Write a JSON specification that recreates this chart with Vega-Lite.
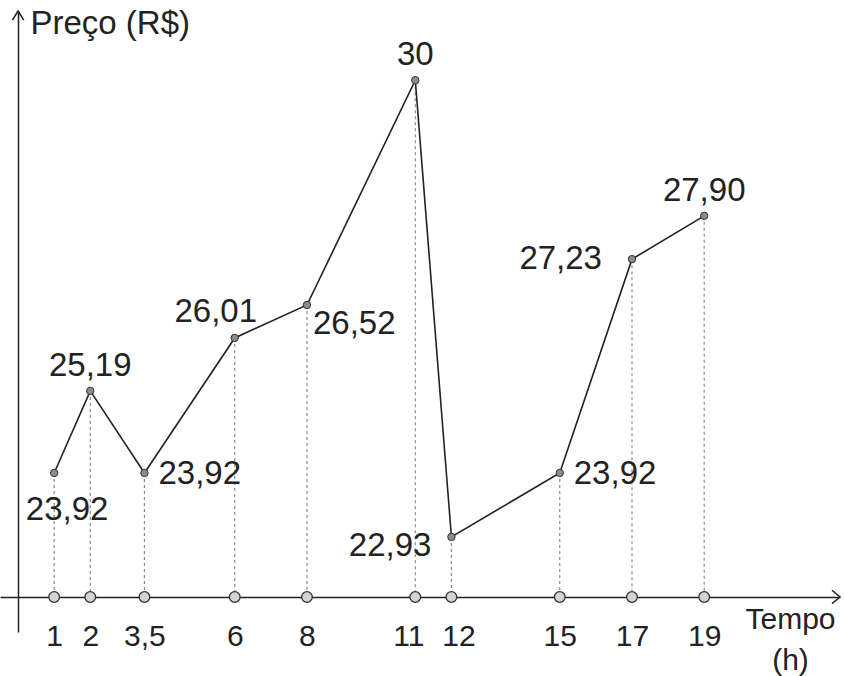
{
  "$schema": "https://vega.github.io/schema/vega-lite/v6.json",
  "width": 840,
  "height": 621,
  "autosize": {"type": "none"},
  "padding": {"left": 0, "top": 11, "right": 4, "bottom": 44},
  "background": "white",
  "config": {"view": {"stroke": null}},
  "datasets": {
    "arrows": [
      {"axis": "y", "x": 0, "y": 31.071},
      {"axis": "x", "x": 22.76, "y": 22}
    ]
  },
  "data": {
    "values": [
      {"t": 1, "p": 23.92, "label": "23,92"},
      {"t": 2, "p": 25.19, "label": "25,19"},
      {"t": 3.5, "p": 23.92, "label": "23,92"},
      {"t": 6, "p": 26.01, "label": "26,01"},
      {"t": 8, "p": 26.52, "label": "26,52"},
      {"t": 11, "p": 30, "label": "30"},
      {"t": 12, "p": 22.93, "label": "22,93"},
      {"t": 15, "p": 23.92, "label": "23,92"},
      {"t": 17, "p": 27.23, "label": "27,23"},
      {"t": 19, "p": 27.9, "label": "27,90"}
    ]
  },
  "encoding": {
    "x": {
      "field": "t",
      "type": "quantitative",
      "scale": {"domain": [-0.5, 22.76], "nice": false, "zero": false},
      "axis": {
        "orient": "bottom",
        "offset": -35,
        "values": [1, 2, 3.5, 6, 8, 11, 12, 15, 17, 19],
        "labelExpr": "replace(format(datum.value, '~g'), '.', ',')",
        "labelOffset": {"condition": [{"test": "datum.value == 11", "value": -7}, {"test": "datum.value == 12", "value": 7}], "value": 0},
        "ticks": false,
        "grid": false,
        "domainColor": "#222",
        "domainWidth": 1.5,
        "labelFont": "Liberation Sans",
        "labelFontSize": 30,
        "labelColor": "#222",
        "labelPadding": 39,
        "labelBaseline": "middle",
        "labelFlush": false,
        "labelOverlap": false,
        "title": ["Tempo", "(h)"],
        "titleFont": "Liberation Sans",
        "titleFontSize": 30,
        "titleFontWeight": "normal",
        "titleColor": "#222",
        "titleX": 790,
        "titleY": 22,
        "titleAlign": "center",
        "titleBaseline": "middle",
        "titleLineHeight": 41
      }
    },
    "y": {
      "field": "p",
      "type": "quantitative",
      "scale": {"domain": [21.458, 31.071], "nice": false, "zero": false},
      "axis": {
        "orient": "left",
        "offset": -18,
        "labels": false,
        "ticks": false,
        "grid": false,
        "domainColor": "#222",
        "domainWidth": 1.5,
        "title": "Preço (R$)",
        "titleAngle": 0,
        "titleAlign": "left",
        "titleBaseline": "middle",
        "titleX": 12,
        "titleY": 12.5,
        "titleFont": "Liberation Sans",
        "titleFontSize": 33,
        "titleFontWeight": "normal",
        "titleColor": "#222"
      }
    }
  },
  "layer": [
    {
      "mark": {"type": "rule", "color": "#8a8a8a", "strokeWidth": 1.2, "strokeDash": [3, 3]},
      "encoding": {"y2": {"datum": 22}}
    },
    {
      "mark": {"type": "point", "filled": true, "fill": "#d4d4d4", "stroke": "#333", "strokeWidth": 1.3, "size": 115, "opacity": 1},
      "encoding": {"y": {"datum": 22}}
    },
    {
      "mark": {"type": "line", "color": "#222", "strokeWidth": 1.6}
    },
    {
      "mark": {"type": "point", "filled": true, "fill": "#8c8c8c", "stroke": "#333", "strokeWidth": 1, "size": 55, "opacity": 1}
    },
    {
      "transform": [{"filter": {"field": "t", "oneOf": [2, 11, 19]}}],
      "mark": {"type": "text", "font": "Liberation Sans", "fontSize": 33, "color": "#222", "align": "center", "baseline": "middle", "dy": -25},
      "encoding": {"text": {"field": "label"}}
    },
    {
      "transform": [{"filter": {"field": "t", "equal": 6}}],
      "mark": {"type": "text", "font": "Liberation Sans", "fontSize": 33, "color": "#222", "align": "center", "baseline": "middle", "dx": -19, "dy": -26},
      "encoding": {"text": {"field": "label"}}
    },
    {
      "transform": [{"filter": {"field": "t", "equal": 1}}],
      "mark": {"type": "text", "font": "Liberation Sans", "fontSize": 33, "color": "#222", "align": "center", "baseline": "middle", "dx": 13, "dy": 37},
      "encoding": {"text": {"field": "label"}}
    },
    {
      "transform": [{"filter": {"field": "t", "oneOf": [3.5, 15]}}],
      "mark": {"type": "text", "font": "Liberation Sans", "fontSize": 33, "color": "#222", "align": "left", "baseline": "middle", "dx": 14, "dy": 1},
      "encoding": {"text": {"field": "label"}}
    },
    {
      "transform": [{"filter": {"field": "t", "equal": 8}}],
      "mark": {"type": "text", "font": "Liberation Sans", "fontSize": 33, "color": "#222", "align": "left", "baseline": "middle", "dx": 6, "dy": 19},
      "encoding": {"text": {"field": "label"}}
    },
    {
      "transform": [{"filter": {"field": "t", "equal": 12}}],
      "mark": {"type": "text", "font": "Liberation Sans", "fontSize": 33, "color": "#222", "align": "right", "baseline": "middle", "dx": -20, "dy": 9},
      "encoding": {"text": {"field": "label"}}
    },
    {
      "transform": [{"filter": {"field": "t", "equal": 17}}],
      "mark": {"type": "text", "font": "Liberation Sans", "fontSize": 33, "color": "#222", "align": "right", "baseline": "middle", "dx": -30, "dy": 0},
      "encoding": {"text": {"field": "label"}}
    },
    {
      "data": {"name": "arrows"},
      "transform": [{"filter": "datum.axis == 'y'"}],
      "mark": {"type": "point", "shape": "M-1,1.6L0,0L1,1.6", "filled": false, "color": "#222", "strokeWidth": 1.5, "size": 130, "opacity": 1},
      "encoding": {"x": {"field": "x", "type": "quantitative"}, "y": {"field": "y", "type": "quantitative"}}
    },
    {
      "data": {"name": "arrows"},
      "transform": [{"filter": "datum.axis == 'x'"}],
      "mark": {"type": "point", "shape": "M-1.2,-1L0,0L-1.2,1", "filled": false, "color": "#222", "strokeWidth": 1.5, "size": 180, "opacity": 1},
      "encoding": {"x": {"field": "x", "type": "quantitative"}, "y": {"field": "y", "type": "quantitative"}}
    }
  ]
}
